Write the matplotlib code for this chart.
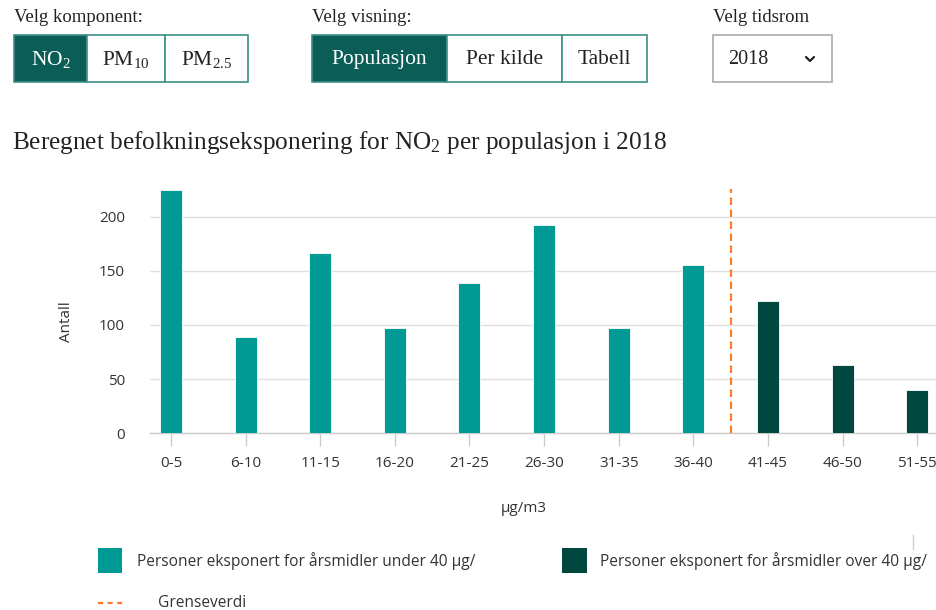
import matplotlib
matplotlib.use("Agg")
import matplotlib.pyplot as plt
from matplotlib.patches import Rectangle
from matplotlib.lines import Line2D

# ---------------- data ----------------
categories = ["0-5", "6-10", "11-15", "16-20", "21-25", "26-30",
              "31-35", "36-40", "41-45", "46-50", "51-55"]
values = [225, 89, 166, 97, 139, 192, 97, 155, 122, 63, 40]
over_limit = [False, False, False, False, False, False, False, False, True, True, True]
y_ticks = [0, 50, 100, 150, 200]
limit_position = 7.5  # between 36-40 and 41-45

title = "Beregnet befolkningseksponering for NO$_2$ per populasjon i 2018"
y_label = "Antall"
x_label = "µg/m3"
legend_under = "Personer eksponert for årsmidler under 40 µg/"
legend_over = "Personer eksponert for årsmidler over 40 µg/"
legend_limit = "Grenseverdi"

comp_label = "Velg komponent:"
comp_buttons = ["NO$_2$", "PM$_{10}$", "PM$_{2.5}$"]
view_label = "Velg visning:"
view_buttons = ["Populasjon", "Per kilde", "Tabell"]
time_label = "Velg tidsrom"
time_value = "2018"

# ---------------- style ----------------
TEAL = "#009a94"
DARK = "#00483f"
BTN_DARK = "#0b5e57"
BTN_BORDER = "#3d8f88"
ORANGE = "#ff7b2e"
GRID = "#e0e0e0"
TXT = "#333333"

plt.rcParams["mathtext.fontset"] = "custom"
plt.rcParams["mathtext.rm"] = "Liberation Serif"
plt.rcParams["mathtext.it"] = "Liberation Serif:italic"
plt.rcParams["mathtext.bf"] = "Liberation Serif:bold"

SERIF = ["Liberation Serif", "DejaVu Serif"]
SANS = ["Open Sans", "DejaVu Sans"]

W, H = 936, 610
fig = plt.figure(figsize=(W / 100, H / 100), dpi=100)

# overlay axes in pixel coordinates for the UI elements
ov = fig.add_axes([0, 0, 1, 1], zorder=0)
ov.set_xlim(0, W)
ov.set_ylim(H, 0)
ov.axis("off")

# ---------------- chart ----------------
left_px, right_px, top_px, bottom_px = 150, 936, 189, 433.3
ax = fig.add_axes([left_px / W, 1 - bottom_px / H,
                   (right_px - left_px) / W, (bottom_px - top_px) / H], zorder=1)
ax.patch.set_alpha(0)

x = list(range(len(categories)))
colors = [DARK if o else TEAL for o in over_limit]
ax.bar(x, values, width=0.295, color=colors, edgecolor="white", linewidth=0.6, zorder=3)
ax.axvline(limit_position, color=ORANGE, lw=1.6, linestyle=(0, (3.4, 2.0)), zorder=4)

ax.set_xlim(-0.28, 10.25)
ax.set_ylim(0, 225.5)
ax.set_yticks(y_ticks)
ax.set_yticklabels([str(v) for v in y_ticks], fontsize=11, color=TXT, family=SANS)
ax.set_xticks(x)
ax.set_xticklabels(categories, fontsize=11, color=TXT, family=SANS)
ax.tick_params(axis="y", length=0, pad=18)
ax.tick_params(axis="x", length=9.5, width=1, color="#cccccc", pad=7)
ax.yaxis.grid(True, color=GRID, lw=1.0, zorder=0)
for s in ["top", "right", "left"]:
    ax.spines[s].set_visible(False)
ax.spines["bottom"].set_color("#cccccc")
ax.spines["bottom"].set_linewidth(1.0)

ov.text(66, 322, y_label, rotation=90, ha="center", va="center",
        fontsize=11, color=TXT, family=SANS)
ov.text(524, 508, x_label, ha="center", va="center", fontsize=11, color=TXT, family=SANS)

# title
ov.text(12, 142, title, ha="left", va="center", fontsize=18.2, color="#222222", family=SERIF)

# ---------------- legend ----------------
ov.add_patch(Rectangle((98, 548), 24, 25, facecolor=TEAL, edgecolor="none"))
ov.text(137, 561, legend_under, ha="left", va="center", fontsize=11.2, color=TXT, family=SANS)
ov.add_patch(Rectangle((562, 548), 25, 25, facecolor=DARK, edgecolor="none"))
ov.text(600, 561, legend_over, ha="left", va="center", fontsize=11.2, color=TXT, family=SANS)
ov.add_line(Line2D([98, 123], [603, 603], color=ORANGE, lw=1.6, linestyle=(0, (2.3, 2.0))))
ov.text(158, 603, legend_limit, ha="left", va="center", fontsize=11.2, color=TXT, family=SANS)
ov.add_line(Line2D([913, 913], [535, 549], color="#cccccc", lw=1))

# ---------------- controls ----------------
def button_group(edges, labels, active, y0=35, y1=82):
    for i, lab in enumerate(labels):
        xa, xb = edges[i], edges[i + 1]
        fill = BTN_DARK if i == active else "white"
        ov.add_patch(Rectangle((xa, y0), xb - xa, y1 - y0, facecolor=fill,
                               edgecolor=BTN_BORDER, lw=1.2))
        ov.text((xa + xb) / 2, (y0 + y1) / 2 + 1, lab, ha="center", va="center",
                fontsize=15.5, color="white" if i == active else "#222222", family=SERIF)

ov.text(14, 17, comp_label, ha="left", va="center", fontsize=13.5, color="#222222", family=SERIF)
button_group([14, 87, 165, 248], comp_buttons, 0)

ov.text(312, 17, view_label, ha="left", va="center", fontsize=13.5, color="#222222", family=SERIF)
button_group([312, 447, 562, 647], view_buttons, 0)

ov.text(713, 17, time_label, ha="left", va="center", fontsize=13.5, color="#222222", family=SERIF)
ov.add_patch(Rectangle((713, 35), 119, 47, facecolor="white", edgecolor="#aaaaaa", lw=1.2))
ov.text(728, 59, time_value, ha="left", va="center", fontsize=14.5, color="#222222", family=SERIF)
ov.add_line(Line2D([806, 810, 814], [57, 61, 57], color="#222222", lw=1.6,
                   solid_capstyle="round", solid_joinstyle="round"))

fig.savefig("out.png", dpi=100)
